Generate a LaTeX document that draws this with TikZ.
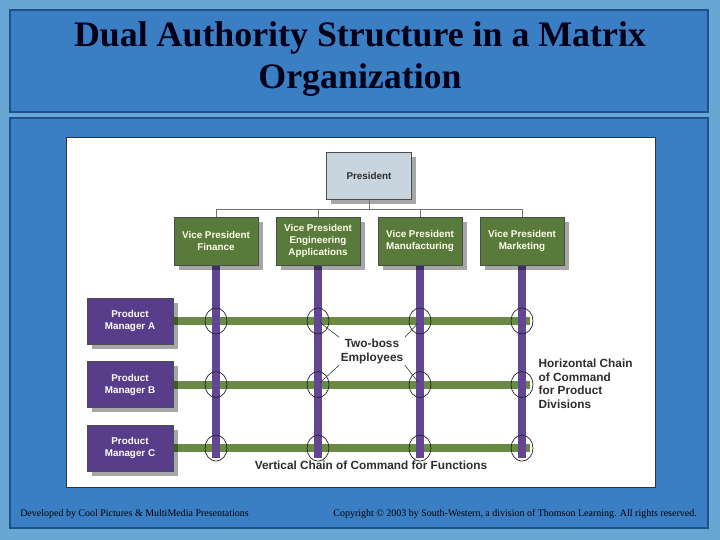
\documentclass[tikz,border=0pt]{standalone}
\usepackage{fontspec}
\setmainfont{Liberation Serif}
\setsansfont{Liberation Sans}
\usepackage{tikz}
\usetikzlibrary{positioning,shapes.geometric,shadows}

\definecolor{bgblue}{RGB}{104,166,212}
\definecolor{panelblue}{RGB}{58,127,196}
\definecolor{paneledge}{RGB}{30,80,140}
\definecolor{vpgreen}{RGB}{88,122,58}
\definecolor{bargreen}{RGB}{104,138,66}
\definecolor{pmpurple}{RGB}{88,62,138}
\definecolor{barpurple}{RGB}{98,70,148}
\definecolor{presgray}{RGB}{200,212,222}
\definecolor{labelgray}{RGB}{45,45,45}

\pgfdeclarelayer{back}
\pgfdeclarelayer{bars}
\pgfsetlayers{back,bars,main}

\begin{document}
\begin{tikzpicture}[
		% 树的层级间距
		level 1/.style={sibling distance=2.55cm},   % 四个副总裁之间的间距
		level distance=1.625cm,                      % 总裁到副总裁的垂直距离
		edge from parent/.style={draw=black!55, line width=0.5pt},
		edge from parent path={(\tikzparentnode.south) -- ++(0,-0.24) -| (\tikzchildnode.north)},
		% 方框样式
		box/.style={draw=black!70, line width=0.4pt, align=center, inner sep=1pt,
			font=\sffamily\bfseries\fontsize{7}{8.5}\selectfont,
			drop shadow={shadow xshift=0.12cm, shadow yshift=-0.12cm, fill=black, opacity=0.35}},
		presbox/.style={box, fill=presgray, text=labelgray, minimum width=2.125cm, minimum height=1.175cm},
		vpbox/.style={box, fill=vpgreen, text=white!92!yellow, minimum width=2.1cm, minimum height=1.2cm},
		pmbox/.style={box, fill=pmpurple, text=white, minimum width=2.15cm, minimum height=1.15cm},
		% 矩阵的横竖条
		vbar/.style={draw=barpurple, line width=0.2cm},
		hbar/.style={draw=bargreen, line width=0.2cm},
		boss/.style={ellipse, draw=black!85, line width=0.5pt, minimum width=0.55cm, minimum height=0.65cm, inner sep=0pt},
		lbl/.style={font=\sffamily\bfseries\fontsize{8.4}{9.6}\selectfont, text=labelgray, inner sep=1pt},
		ptr/.style={draw=black!80, line width=0.4pt, shorten >=2pt},
		foot/.style={font=\fontsize{7.1}{8}\selectfont, inner sep=0pt}
		]
		\useasboundingbox (0,0) rectangle (18,13.5);
		
		% 背景与面板
		\begin{pgfonlayer}{back}
			\fill[bgblue] (0,0) rectangle (18,13.5);
			\draw[fill=panelblue, draw=paneledge, line width=0.8pt] (0.25,10.7) rectangle (17.7,13.25);
			\draw[fill=panelblue, draw=paneledge, line width=0.8pt] (0.25,0.3) rectangle (17.7,10.55);
			\draw[fill=white, draw=black!80, line width=0.6pt] (1.65,1.325) rectangle (16.375,10.075);
		\end{pgfonlayer}
		
		\node[font=\bfseries\fontsize{25.5}{30}\selectfont, text=black!90!blue, align=center] (title) at (9,12.03)
			{Dual Authority Structure in a Matrix\\Organization};
		
		% 总裁与副总裁
		\node[presbox] (pres) at (9.225,9.1) {President}
		child {node[vpbox] (vp1) {Vice President\\Finance}}
		child {node[vpbox] (vp2) {Vice President\\Engineering\\Applications}}
		child {node[vpbox] (vp3) {Vice President\\Manufacturing}}
		child {node[vpbox] (vp4) {Vice President\\Marketing}};
		
		% 产品经理
		\node[pmbox] (pmA) at (3.25,5.475) {Product\\Manager A};
		\node[pmbox, below=0.425cm of pmA] (pmB) {Product\\Manager B};
		\node[pmbox, below=0.425cm of pmB] (pmC) {Product\\Manager C};
		
		\coordinate (bot) at (9,2.05);
		\coordinate (rgt) at (13.25,5);
		
		\begin{pgfonlayer}{bars}
			\foreach \r in {A,B,C}
			\draw[hbar] (pm\r.east) -- (pm\r.east -| rgt);
			\foreach \k in {1,...,4}
			\draw[vbar] (vp\k.south) -- (vp\k.south |- bot);
		\end{pgfonlayer}
		
		% 双重上司的员工
		\foreach \r in {A,B,C}
		\foreach \k in {1,...,4}
		\node[boss] (c\r\k) at (vp\k |- pm\r) {};
		
		\node[lbl, align=center] (twoboss) at (9.3,4.72) {Two-boss\\Employees};
		\draw[ptr] (twoboss.north west) -- (cA2.center);
		\draw[ptr] (twoboss.north east) -- (cA3.center);
		\draw[ptr] (twoboss.south west) -- (cB2.center);
		\draw[ptr] (twoboss.south east) -- (cB3.center);
		
		\node[lbl, align=left, anchor=west] (hchain) at (13.425,3.9)
			{Horizontal Chain\\of Command\\for Product\\Divisions};
		\node[lbl] (vchain) at (9.275,1.875) {Vertical Chain of Command for Functions};
		
		% 页脚
		\node[foot, anchor=west] (dev) at (0.5,0.65)
			{Developed by Cool Pictures \& MultiMedia Presentations};
		\node[foot, anchor=east] (copy) at (17.425,0.65)
			{Copyright © 2003 by South-Western, a division of Thomson Learning. All rights reserved.};
	\end{tikzpicture}
\end{document}
